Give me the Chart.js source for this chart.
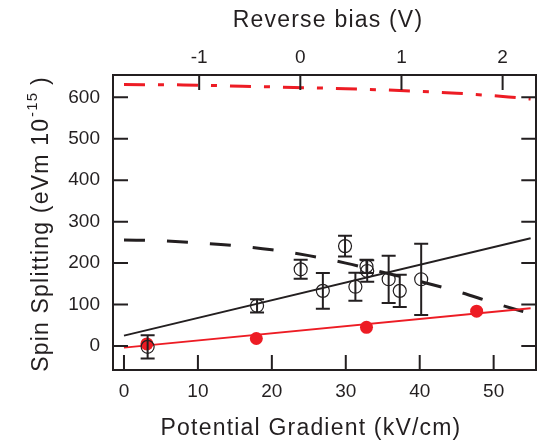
<!DOCTYPE html>
<html><head><meta charset="utf-8">
<script src="https://cdn.jsdelivr.net/npm/chart.js@4.4.0/dist/chart.umd.min.js"></script>
<style>html,body{margin:0;padding:0;background:#fff;}</style>
</head><body>
<canvas id="c" width="544" height="446"></canvas>
<script>
// ---- data ----
const gradientTicks = [0, 10, 20, 30, 40, 50];          // kV/cm (bottom)
const biasTicks = [-1, 0, 1, 2];                        // V (top)
const splittingTicks = [0, 100, 200, 300, 400, 500, 600];

const openX   = [3.2, 18.0, 23.9, 26.9, 29.9, 31.3, 32.8, 32.9, 35.8, 37.3, 40.2];
const openY   = [-2, 97, 185, 133, 241, 143, 192, 181, 161, 133, 161];
const openErr = [28, 16, 23, 43, 25, 34, 16, 26, 57, 39, 86];

const filledX = [3.1, 17.9, 32.8, 47.7];
const filledY = [5, 18, 45, 84];

const blackFitX = [0, 55];
const blackFitY = [25, 260];
const redFitX = [0, 55];
const redFitY = [-4, 91];

const dashedX = [0, 5, 10, 15, 20, 25, 30, 35, 40, 45, 50, 54];
const dashedY = [256, 254, 249, 242, 232, 218, 200, 178, 156, 132, 104, 83];

const dashDotX = [0, 8, 16, 23, 30, 38, 45, 52, 55];
const dashDotY = [631, 630, 627, 624, 621, 616, 610, 601, 596];

// ---- styling ----
const INK = '#231f20';
const RED = '#ed1c24';
const FONT = '"Liberation Sans", Arial, Helvetica, sans-serif';

const pts = (xs, ys) => xs.map((x, i) => ({x: x, y: ys[i]}));

const inwardTicks = {
  id: 'inwardTicks',
  afterDraw(chart) {
    const ctx = chart.ctx, a = chart.chartArea, L = 15;
    ctx.save();
    ctx.strokeStyle = INK; ctx.lineWidth = 2;
    ctx.beginPath();
    gradientTicks.forEach(v => { const p = chart.scales.x.getPixelForValue(v); ctx.moveTo(p, a.bottom); ctx.lineTo(p, a.bottom - L); });
    biasTicks.forEach(v => { const p = chart.scales.x2.getPixelForValue(v); ctx.moveTo(p, a.top); ctx.lineTo(p, a.top + L); });
    splittingTicks.forEach(v => { const p = chart.scales.y.getPixelForValue(v); ctx.moveTo(a.left, p); ctx.lineTo(a.left + L, p); });
    splittingTicks.forEach(v => { const p = chart.scales.y2.getPixelForValue(v); ctx.moveTo(a.right, p); ctx.lineTo(a.right - L, p); });
    ctx.stroke();
    ctx.restore();
  }
};

const errorBars = {
  id: 'errorBars',
  afterDatasetsDraw(chart) {
    const ctx = chart.ctx, xs = chart.scales.x, ys = chart.scales.y, cap = 7;
    ctx.save();
    const a = chart.chartArea;
    ctx.beginPath();
    ctx.rect(a.left, a.top, a.right - a.left, a.bottom - a.top);
    ctx.clip();
    ctx.strokeStyle = INK; ctx.lineWidth = 2;
    ctx.beginPath();
    openX.forEach((x, i) => {
      const px = xs.getPixelForValue(x);
      const top = ys.getPixelForValue(openY[i] + openErr[i]);
      const bot = ys.getPixelForValue(openY[i] - openErr[i]);
      ctx.moveTo(px, top); ctx.lineTo(px, bot);
      ctx.moveTo(px - cap, top); ctx.lineTo(px + cap, top);
      ctx.moveTo(px - cap, bot); ctx.lineTo(px + cap, bot);
    });
    ctx.stroke();
    ctx.restore();
  }
};

const titles = {
  id: 'titles',
  afterDraw(chart) {
    const ctx = chart.ctx;
    ctx.save();
    ctx.fillStyle = INK;
    ctx.font = '23px ' + FONT;
    if ('letterSpacing' in ctx) ctx.letterSpacing = '1.2px';
    ctx.textAlign = 'center';
    ctx.textBaseline = 'alphabetic';
    ctx.fillText('Reverse bias (V)', 328, 27);
    ctx.fillText('Potential Gradient (kV/cm)', 311, 435);
    // y-axis title with superscript
    const main = 'Spin Splitting (eVm 10';
    const sup = '-15';
    const tail = ' )';
    ctx.textAlign = 'left';
    ctx.font = '23px ' + FONT;
    const w1 = ctx.measureText(main).width;
    const w3 = ctx.measureText(tail).width;
    ctx.font = '15px ' + FONT;
    const w2 = ctx.measureText(sup).width;
    const total = w1 + w2 + w3;
    ctx.translate(48, 224);
    ctx.rotate(-Math.PI / 2);
    let x0 = -total / 2;
    ctx.font = '23px ' + FONT;
    ctx.fillText(main, x0, 0);
    ctx.font = '15px ' + FONT;
    ctx.fillText(sup, x0 + w1 + 1, -11);
    ctx.font = '23px ' + FONT;
    ctx.fillText(tail, x0 + w1 + w2, 0);
    ctx.restore();
  }
};

const tickFont = {family: FONT, size: 19};
const setTicks = arr => s => { s.ticks = arr.map(v => ({value: v})); };
const noGrid = { display: false, drawTicks: false, tickLength: 0 };

new Chart(document.getElementById('c'), {
  type: 'scatter',
  data: {
    datasets: [
      { label: 'open', data: pts(openX, openY), showLine: false, pointStyle: 'circle',
        pointRadius: 6.5, pointBorderWidth: 1.2, pointBorderColor: INK, pointBackgroundColor: 'rgba(0,0,0,0)', xAxisID: 'x', yAxisID: 'y' },
      { label: 'filled', data: pts(filledX, filledY), showLine: false, pointStyle: 'circle',
        pointRadius: 6.5, pointBorderWidth: 0, pointBackgroundColor: RED, pointBorderColor: RED, xAxisID: 'x', yAxisID: 'y' },
      { label: 'blackFit', data: pts(blackFitX, blackFitY), showLine: true, pointRadius: 0,
        borderColor: INK, borderWidth: 2, xAxisID: 'x', yAxisID: 'y' },
      { label: 'redFit', data: pts(redFitX, redFitY), showLine: true, pointRadius: 0,
        borderColor: RED, borderWidth: 2, xAxisID: 'x', yAxisID: 'y' },
      { label: 'dashed', data: pts(dashedX, dashedY), showLine: true, pointRadius: 0,
        borderColor: INK, borderWidth: 3, borderDash: [21, 22], cubicInterpolationMode: 'monotone', xAxisID: 'x', yAxisID: 'y' },
      { label: 'dashDot', data: pts(dashDotX, dashDotY), showLine: true, pointRadius: 0,
        borderColor: RED, borderWidth: 3, borderDash: [21, 13, 6, 13], cubicInterpolationMode: 'monotone', xAxisID: 'x', yAxisID: 'y' }
    ]
  },
  options: {
    responsive: false,
    devicePixelRatio: 1,
    animation: false,
    layout: { padding: 0 },
    plugins: { legend: { display: false }, tooltip: { enabled: false } },
    scales: {
      x: {
        type: 'linear', position: 'bottom', min: -1.485, max: 55.77,
        afterBuildTicks: setTicks(gradientTicks),
        afterFit: s => { s.height = 76; },
        grid: noGrid,
        border: { display: true, color: INK, width: 2 },
        ticks: { font: tickFont, color: INK, padding: 10, maxRotation: 0, autoSkip: false }
      },
      x2: {
        type: 'linear', position: 'top', min: -1.852, max: 2.333,
        afterBuildTicks: setTicks(biasTicks),
        afterFit: s => { s.height = 75; },
        grid: noGrid,
        border: { display: true, color: INK, width: 2 },
        ticks: { font: tickFont, color: INK, padding: 6, maxRotation: 0, autoSkip: false }
      },
      y: {
        type: 'linear', position: 'left', min: -58, max: 654,
        afterBuildTicks: setTicks(splittingTicks),
        afterFit: s => { s.width = 113; },
        grid: noGrid,
        border: { display: true, color: INK, width: 2 },
        ticks: { font: tickFont, color: INK, padding: 13, autoSkip: false }
      },
      y2: {
        type: 'linear', position: 'right', min: -58, max: 654,
        afterBuildTicks: setTicks(splittingTicks),
        afterFit: s => { s.width = 7; },
        grid: noGrid,
        border: { display: true, color: INK, width: 2 },
        ticks: { display: false }
      }
    }
  },
  plugins: [errorBars, inwardTicks, titles]
});
</script>
</body></html>
